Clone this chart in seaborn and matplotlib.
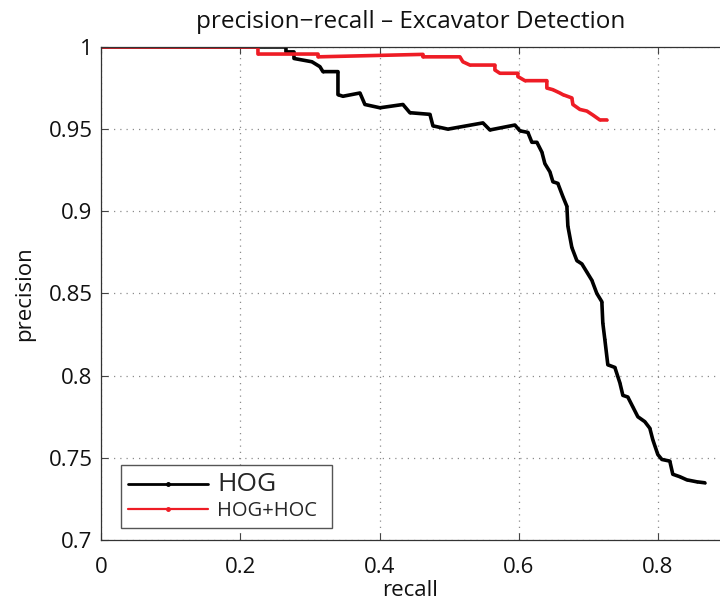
import numpy as np
import pandas as pd
import matplotlib
matplotlib.use("Agg")
import matplotlib.pyplot as plt
import seaborn as sns
from matplotlib.lines import Line2D

# ---- data ----
hog_recall = [0.0, 0.2656, 0.2656, 0.2771, 0.2771, 0.3029, 0.3144, 0.3187, 0.3403, 0.3403,
              0.3474, 0.3719, 0.3790, 0.4006, 0.4336, 0.4436, 0.4724, 0.4767, 0.4982, 0.5485,
              0.5585, 0.5944, 0.6016, 0.6131, 0.6188, 0.6260, 0.6332, 0.6375, 0.6447, 0.6490,
              0.6561, 0.6633, 0.6691, 0.6705, 0.6762, 0.6834, 0.6906, 0.6978, 0.7050, 0.7121,
              0.7193, 0.7207, 0.7236, 0.7279, 0.7380, 0.7452, 0.7495, 0.7566, 0.7638, 0.7710,
              0.7810, 0.7882, 0.7925, 0.7997, 0.8055, 0.8169, 0.8212, 0.8313, 0.8413, 0.8557,
              0.8672]
hog_precision = [1.000, 1.000, 0.997, 0.997, 0.993, 0.991, 0.988, 0.985, 0.985, 0.971,
                 0.970, 0.972, 0.965, 0.963, 0.965, 0.960, 0.959, 0.952, 0.950, 0.9538,
                 0.9495, 0.9525, 0.949, 0.948, 0.942, 0.942, 0.936, 0.929, 0.924, 0.918,
                 0.917, 0.909, 0.903, 0.891, 0.878, 0.870, 0.868, 0.863, 0.858, 0.850,
                 0.845, 0.832, 0.822, 0.8066, 0.805, 0.7956, 0.788, 0.787, 0.781, 0.775,
                 0.772, 0.768, 0.761, 0.752, 0.749, 0.748, 0.740, 0.7385, 0.7366, 0.7354,
                 0.7348]

hoc_recall = [0.0, 0.2254, 0.2254, 0.3116, 0.3116, 0.4623, 0.4623, 0.5154, 0.5197, 0.5298,
              0.5657, 0.5657, 0.5729, 0.5987, 0.5987, 0.6088, 0.6403, 0.6403, 0.6490, 0.6590,
              0.6633, 0.6762, 0.6777, 0.6877, 0.6978, 0.7064, 0.7164, 0.7265]
hoc_precision = [1.000, 1.000, 0.9957, 0.9957, 0.994, 0.9955, 0.994, 0.994, 0.991, 0.989,
                 0.989, 0.986, 0.984, 0.984, 0.982, 0.9795, 0.9795, 0.975, 0.974, 0.972,
                 0.971, 0.969, 0.965, 0.962, 0.961, 0.9586, 0.9556, 0.9556]

series_names = ["HOG", "HOG+HOC"]
x_ticks = [0, 0.2, 0.4, 0.6, 0.8]
x_tick_labels = ["0", "0.2", "0.4", "0.6", "0.8"]
y_ticks = [0.7, 0.75, 0.8, 0.85, 0.9, 0.95, 1.0]
y_tick_labels = ["0.7", "0.75", "0.8", "0.85", "0.9", "0.95", "1"]

df = pd.concat([
    pd.DataFrame({"recall": hog_recall, "precision": hog_precision, "method": series_names[0]}),
    pd.DataFrame({"recall": hoc_recall, "precision": hoc_precision, "method": series_names[1]}),
], ignore_index=True)

sns.set_theme(style="white")
plt.rcParams["font.family"] = ["Open Sans", "DejaVu Sans"]

fig = plt.figure(figsize=(7.2, 6.03), dpi=100)
ax = fig.add_axes([0.1403, 0.1045, 0.8597, 0.8176])

palette = {"HOG": "#000000", "HOG+HOC": "#ee1c25"}
sns.lineplot(data=df, x="recall", y="precision", hue="method", palette=palette,
             estimator=None, sort=False, ax=ax, linewidth=2.6, legend=False,
             marker=".", markersize=3, markeredgewidth=0)

ax.set_xlim(0, 0.889)
ax.set_ylim(0.7, 1.0)
ax.set_xticks(x_ticks)
ax.set_xticklabels(x_tick_labels)
ax.set_yticks(y_ticks)
ax.set_yticklabels(y_tick_labels)

ax.grid(True, linestyle=(0, (1, 4)), color="#8c8c8c", linewidth=0.9)
ax.tick_params(direction="in", length=5, width=0.8, color="#444444",
               top=True, bottom=True, left=True, right=False,
               labelsize=16, pad=6, labelcolor="#111111")
ax.tick_params(axis="x", pad=12)

for side in ["top", "bottom", "left"]:
    ax.spines[side].set_visible(True)
    ax.spines[side].set_color("#333333")
    ax.spines[side].set_linewidth(0.9)
ax.spines["right"].set_visible(False)

ax.set_xlabel("recall", fontsize=16, labelpad=2, color="#111111")
ax.set_ylabel("precision", fontsize=16, labelpad=10, color="#111111")
ax.set_title("precision\u2212recall \u2013 Excavator Detection", fontsize=17.5, pad=14, color="#111111")

# legend
handles = [Line2D([0], [0], color=palette[n], linewidth=2.0 if n == "HOG" else 1.6,
                  marker=".", markersize=5) for n in series_names]
leg = ax.legend(handles, series_names, loc="lower left",
                bbox_to_anchor=(0.032, 0.0243, 0.341, 0.138), mode="expand",
                borderaxespad=0, fancybox=False, framealpha=1, edgecolor="#555555",
                prop={"size": 14.5},
                handlelength=4.0, borderpad=0.35, labelspacing=0.2, handletextpad=0.45)
leg.get_frame().set_linewidth(1.0)
texts = leg.get_texts()
texts[0].set_fontsize(19)
texts[1].set_fontsize(14.5)

fig.savefig("out.png", dpi=100)
